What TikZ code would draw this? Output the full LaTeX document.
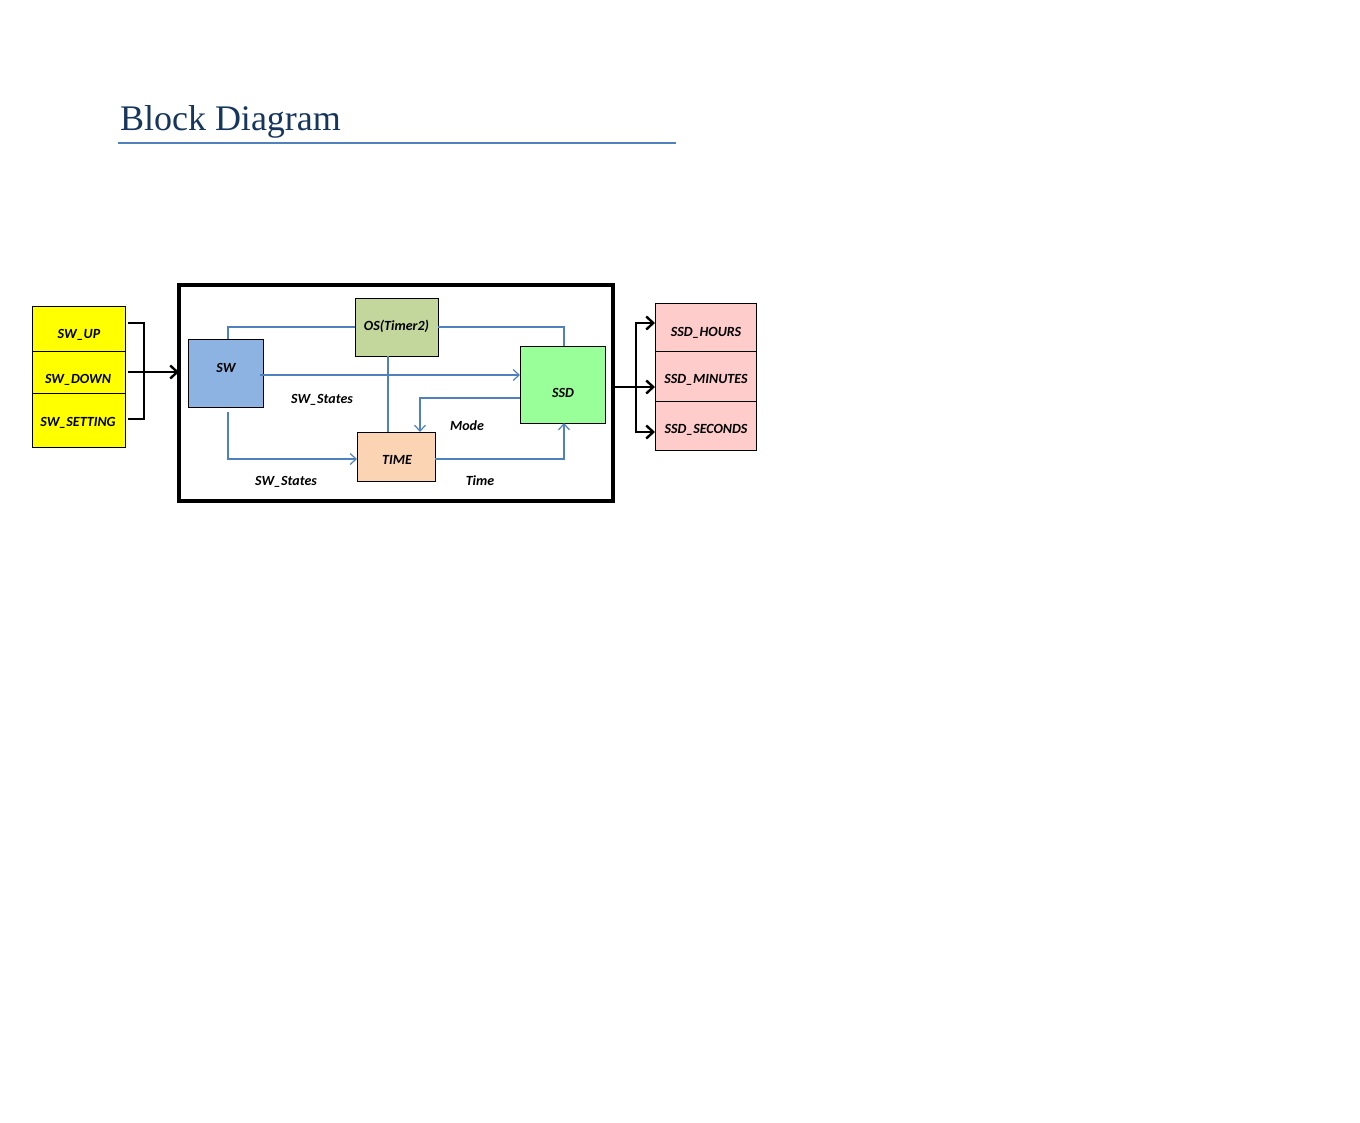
\documentclass[tikz,border=0pt]{standalone}
\usepackage{fontspec}
\setmainfont{Carlito}
\newfontfamily\titlefont{Liberation Serif}
\usetikzlibrary{arrows.meta}
\definecolor{titleblue}{HTML}{17365D}
\definecolor{ruleblue}{HTML}{4F81BD}
\definecolor{linkblue}{HTML}{4F81BD}
\definecolor{swyellow}{HTML}{FFFF00}
\definecolor{swblue}{HTML}{8DB3E2}
\definecolor{osgreen}{HTML}{C3D69B}
\definecolor{ssdgreen}{HTML}{99FF99}
\definecolor{timepeach}{HTML}{FBD4B4}
\definecolor{outpink}{HTML}{FFCCCC}
\tikzset{
  every node/.style={outer sep=0pt},
  lbl/.style={font=\fontsize{14}{16}\selectfont\bfseries\itshape, inner sep=0pt},
  blk/.style={draw=black, line width=1pt, inner sep=0pt, anchor=north west},
  cell/.style={draw=black, line width=0.8pt, inner sep=0pt, anchor=north west},
  link/.style={draw=linkblue, line width=1.2pt},
  linkarr/.style={link, -{Straight Barb[length=6pt, width=11pt, line width=1.2pt]}},
  bold/.style={draw=black, line width=2.8pt},
  boldarr/.style={bold, -{Straight Barb[length=7pt, width=13pt, line width=2.4pt]}}
}
\begin{document}
\begin{tikzpicture}[x=1pt,y=-1pt]
\useasboundingbox (0,0) rectangle (1360,1122);
% title
\node[anchor=base west, inner sep=0pt, text=titleblue, font=\titlefont\fontsize{36}{40}\selectfont] (title) at (120,130) {Block Diagram};
\coordinate (ruleL) at (118,143);
\coordinate (ruleR) at (676,143);
\draw[draw=ruleblue, line width=2pt] (ruleL) -- (ruleR);
% input cells
\node[cell, fill=swyellow, minimum width=93pt, minimum height=45pt] (up) at (32,306) {};
\node[cell, fill=swyellow, minimum width=93pt, minimum height=42pt] (down) at (32,351) {};
\node[cell, fill=swyellow, minimum width=93pt, minimum height=54pt] (set) at (32,393) {};
\node[lbl] (upt) at (79,335) {SW\_UP};
\node[lbl] (downt) at (78,380) {SW\_DOWN};
\node[lbl] (sett) at (78,423) {SW\_SETTING};
% output cells
\node[cell, fill=outpink, minimum width=101pt, minimum height=48pt] (hours) at (655,303) {};
\node[cell, fill=outpink, minimum width=101pt, minimum height=50pt] (mins) at (655,351) {};
\node[cell, fill=outpink, minimum width=101pt, minimum height=49pt] (secs) at (655,401) {};
\node[lbl] (hourst) at (706,333) {SSD\_HOURS};
\node[lbl] (minst) at (706,380) {SSD\_MINUTES};
\node[lbl] (secst) at (706,430) {SSD\_SECONDS};
% main frame
\node[draw=black, line width=3.5pt, anchor=north west, minimum width=434pt, minimum height=216pt, inner sep=0pt] (frame) at (179,285) {};
% inner blocks
\node[blk, fill=swblue, minimum width=75pt, minimum height=68pt] (sw) at (188,339) {};
\node[lbl] (swt) at (226,367.5) {SW};
\node[blk, fill=osgreen, minimum width=83pt, minimum height=58pt] (os) at (355,298) {};
\node[lbl] (ost) at (396.5,326.5) {OS(Timer2)};
\node[blk, fill=ssdgreen, minimum width=85pt, minimum height=77pt] (ssd) at (520,346) {};
\node[lbl] (ssdt) at (563,392.5) {SSD};
\node[blk, fill=timepeach, minimum width=78pt, minimum height=49pt] (time) at (357,432) {};
\node[lbl] (timet) at (397,459.5) {TIME};
% labels
\node[lbl] (l1) at (322,400) {SW\_States};
\node[lbl] (l2) at (467,425.5) {Mode};
\node[lbl] (l3) at (286,482) {SW\_States};
\node[lbl] (l4) at (480,480.5) {Time};
% blue connectors
\draw[link] (sw.north west -| 228,0) -- (228,327) -- (os.west |- 0,327);
\draw[link] (os.east |- 0,327) -- (564,327) -- (ssd.north -| 564,0);
\draw[linkarr] (260,375) -- (ssd.west |- 0,375);
\draw[link, line width=1.6pt] (os.south -| 388,0) -- (time.north -| 388,0);
\draw[linkarr] (ssd.west |- 0,398) -- (420,398) -- (time.north -| 420,0);
\draw[linkarr] (228,412) -- (228,459) -- (time.west |- 0,459);
\draw[linkarr] (time.east |- 0,459) -- (564,459) -- (ssd.south -| 564,0);
% input bracket
\coordinate (bt) at (128,323);
\coordinate (bb) at (128,419);
\coordinate (bm) at (128,372);
\draw[bold] (bt) -- (144,323) -- (144,419) -- (bb);
\draw[boldarr] (bm) -- (frame.west |- bm);
% output bracket
\coordinate (om) at (636,387);
\draw[bold] (frame.east |- om) -- (om);
\draw[boldarr] (636,387) -- (636,323) -- (hours.west |- 0,323);
\draw[boldarr] (om) -- (mins.west |- om);
\draw[boldarr] (636,387) -- (636,432) -- (secs.west |- 0,432);
\end{tikzpicture}
\end{document}
